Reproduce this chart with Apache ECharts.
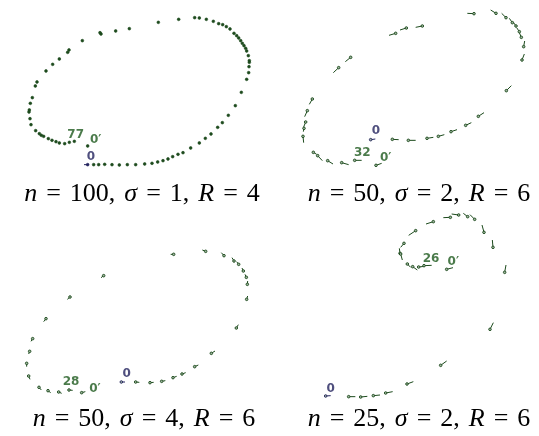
<!DOCTYPE html>
<html>
<head>
<meta charset="utf-8">
<script src="https://cdn.jsdelivr.net/npm/echarts@6/dist/echarts.min.js"></script>
<style>
  html, body { margin: 0; padding: 0; background: #fff; }
  #chart { width: 539px; height: 436px; }
</style>
</head>
<body>
<div id="chart"></div>
<script>
// positions are in panel units (3 units per screen pixel), y grows downward
// each mark: [x, y, tailX, tailY]
const marks1 = [
  [263, 494, 252, 494], [281, 494, 281, 494], [296, 494, 296, 494], [314, 493, 314, 493], [336, 494, 336, 494],
  [358, 495, 358, 495], [382, 494, 382, 494], [407, 494, 407, 494], [434, 492, 434, 492], [456, 490, 456, 490],
  [473, 486, 473, 486], [489, 482, 489, 482], [504, 477, 504, 477], [518, 470, 518, 470], [534, 463, 534, 463],
  [549, 458, 549, 458], [572, 444, 572, 444], [598, 429, 598, 429], [616, 415, 616, 415], [633, 402, 633, 402],
  [653, 382, 653, 382], [667, 368, 667, 368], [685, 346, 685, 346], [706, 317, 706, 317], [724, 277, 724, 277],
  [740, 238, 740, 238], [746, 218, 746, 218], [747, 200, 747, 200], [748, 187, 748, 187], [748, 182, 748, 182],
  [745, 167, 745, 167], [740, 153, 740, 153], [737, 145, 737, 145], [732, 137, 732, 137], [727, 130, 727, 130],
  [722, 122, 722, 122], [716, 114, 716, 114], [710, 107, 710, 107], [702, 100, 702, 100], [690, 87, 690, 87],
  [679, 80, 679, 80], [668, 74, 668, 74], [656, 71, 656, 71], [640, 64, 640, 64], [619, 58, 619, 58],
  [598, 54, 598, 54], [584, 53, 584, 53], [536, 58, 536, 58], [475, 67, 475, 67], [388, 86, 388, 86],
  [347, 93, 347, 93], [303, 102, 303, 102], [300, 98, 300, 98], [247, 122, 247, 122], [207, 150, 207, 150],
  [203, 157, 203, 157], [178, 177, 178, 177], [158, 193, 158, 193], [138, 213, 138, 213], [111, 246, 111, 246],
  [106, 258, 106, 258], [97, 293, 97, 293], [91, 310, 91, 310], [88, 330, 88, 330], [87, 336, 87, 336],
  [90, 356, 90, 356], [93, 374, 93, 374], [107, 392, 107, 392], [118, 401, 118, 401], [124, 406, 124, 406],
  [131, 409, 131, 409], [145, 416, 145, 416], [156, 421, 156, 421], [168, 425, 168, 425], [178, 429, 178, 429],
  [194, 431, 194, 431], [208, 427, 208, 427], [223, 424, 223, 424], [263, 438, 263, 438]
];
const marks2 = [
  [302, 419, 316, 417], [367, 418, 386, 419], [415, 421, 437, 421], [471, 415, 490, 412], [505, 409, 523, 404],
  [543, 395, 561, 389], [587, 376, 604, 368], [625, 349, 642, 338], [709, 272, 724, 257], [756, 180, 763, 162],
  [761, 140, 764, 123], [754, 112, 748, 98], [748, 95, 740, 83], [738, 78, 730, 67], [727, 68, 718, 55],
  [708, 53, 695, 40], [678, 40, 662, 30], [612, 41, 592, 40], [457, 78, 437, 82], [409, 84, 390, 90],
  [377, 100, 357, 106], [242, 172, 226, 185], [206, 203, 190, 218], [127, 297, 118, 313], [112, 332, 104, 350],
  [107, 366, 101, 381], [102, 385, 100, 395], [99, 409, 101, 428], [130, 457, 140, 463], [143, 467, 157, 482],
  [173, 482, 189, 492], [215, 488, 236, 494], [254, 481, 275, 481], [318, 496, 335, 490]
];
const marks3 = [
  [364, 516, 375, 516], [407, 516, 418, 517], [450, 518, 461, 517], [485, 514, 496, 512], [519, 503, 530, 499],
  [546, 492, 557, 488], [584, 470, 595, 465], [634, 430, 645, 423], [709, 354, 715, 344], [740, 268, 743, 258],
  [742, 223, 743, 213], [739, 202, 735, 193], [730, 183, 726, 174], [716, 163, 710, 155], [702, 153, 696, 143],
  [672, 137, 664, 128], [617, 124, 607, 120], [521, 133, 512, 133], [311, 197, 303, 203], [210, 261, 202, 268],
  [138, 326, 131, 335], [98, 386, 93, 394], [89, 424, 86, 432], [80, 460, 80, 470], [86, 498, 90, 508],
  [117, 532, 124, 540], [144, 542, 152, 548], [176, 546, 185, 550], [207, 540, 218, 541], [245, 548, 256, 545]
];
const marks4 = [
  [167, 558, 182, 557], [236, 560, 256, 560], [272, 561, 292, 559], [310, 557, 330, 555], [347, 549, 368, 545],
  [411, 522, 430, 515], [512, 466, 530, 453], [660, 358, 670, 338], [704, 187, 708, 165], [669, 112, 667, 90],
  [642, 67, 636, 45], [614, 28, 600, 14], [593, 20, 580, 10], [566, 15, 545, 12], [541, 22, 520, 23],
  [490, 35, 468, 42], [437, 62, 416, 76], [402, 100, 392, 112], [390, 130, 388, 115], [392, 132, 397, 150],
  [412, 162, 422, 172], [428, 170, 442, 180], [446, 171, 464, 169], [462, 167, 485, 166], [530, 178, 549, 173]
];

// labels: [text, x, y]
const labels1 = [['0', 273, 470], ['77', 227, 405], ['0\u2032', 287, 420]];
const labels2 = [['0', 318, 393], ['32', 277, 458], ['0\u2032', 347, 475]];
const labels3 = [['0', 380, 493], ['28', 213, 517], ['0\u2032', 285, 538]];
const labels4 = [['0', 182, 537], ['26', 483, 148], ['0\u2032', 550, 155]];

const captions = [
  ['n', '100', '1', '4'],
  ['n', '50', '2', '6'],
  ['n', '50', '4', '6'],
  ['n', '25', '2', '6']
];

const panels = [
  { left: 0, top: 0, width: 270, height: 180, xMax: 810, yMax: 540, capX: 137, capY: 176 },
  { left: 270, top: 0, width: 269, height: 180, xMax: 807, yMax: 540, capX: 414, capY: 176 },
  { left: 0, top: 210, width: 270, height: 190, xMax: 810, yMax: 570, capX: 139, capY: 401 },
  { left: 270, top: 210, width: 269, height: 190, xMax: 807, yMax: 570, capX: 414, capY: 401 }
];
const allMarks = [marks1, marks2, marks3, marks4];
const allLabels = [labels1, labels2, labels3, labels4];

const GREEN = '#1c4a1c';
const NAVY = '#23235e';

const chart = echarts.init(document.getElementById('chart'));

const grid = [];
const xAxis = [];
const yAxis = [];
const series = [];
const title = [];

panels.forEach((p, i) => {
  grid.push({ left: p.left, top: p.top, width: p.width, height: p.height });
  xAxis.push({ type: 'value', gridIndex: i, min: 0, max: p.xMax, show: false });
  yAxis.push({ type: 'value', gridIndex: i, min: 0, max: p.yMax, inverse: true, show: false });

  series.push({
    type: 'custom',
    xAxisIndex: i,
    yAxisIndex: i,
    data: allMarks[i],
    encode: { x: [0, 2], y: [1, 3] },
    renderItem: function (params, api) {
      const pt = api.coord([api.value(0), api.value(1)]);
      const tl = api.coord([api.value(2), api.value(3)]);
      const color = params.dataIndex === 0 ? NAVY : GREEN;
      const filled = i === 0;
      return {
        type: 'group',
        children: [
          {
            type: 'line',
            shape: { x1: pt[0], y1: pt[1], x2: tl[0], y2: tl[1] },
            style: { stroke: color, lineWidth: 1 }
          },
          {
            type: 'circle',
            shape: { cx: pt[0], cy: pt[1], r: filled ? 1.4 : 1.3 },
            style: { fill: filled ? color : '#9fb59f', stroke: color, lineWidth: filled ? 0.6 : 0.9 }
          }
        ]
      };
    },
    silent: true,
    animation: false
  });

  series.push({
    type: 'scatter',
    xAxisIndex: i,
    yAxisIndex: i,
    symbolSize: 0,
    data: allLabels[i].map((l, k) => ({
      value: [l[1], l[2]],
      label: {
        show: true,
        position: 'inside',
        formatter: l[0],
        color: k === 0 ? NAVY : '#1e5a1e',
        fontFamily: 'DejaVu Sans',
        fontSize: 12,
        fontWeight: 'bold'
      }
    })),
    silent: true,
    animation: false
  });

  const c = captions[i];
  title.push({
    left: p.capX,
    top: p.capY,
    textAlign: 'center',
    text: '{i|' + c[0] + '}{e|=}' + c[1] + '{c|,}{i|\u03c3}{e|=}' + c[2] + '{c|,}{i|R}{e|=}' + c[3],
    textStyle: {
      fontFamily: 'Liberation Serif',
      fontSize: 26,
      fontWeight: 'normal',
      color: '#000',
      rich: {
        i: { fontFamily: 'Liberation Serif', fontStyle: 'italic', fontSize: 26, color: '#000' },
        e: { fontFamily: 'Liberation Serif', fontSize: 26, color: '#000', padding: [0, 9] },
        c: { fontFamily: 'Liberation Serif', fontSize: 26, color: '#000', padding: [0, 9, 0, 0] }
      }
    }
  });
});

chart.setOption({
  animation: false,
  title: title,
  grid: grid,
  xAxis: xAxis,
  yAxis: yAxis,
  series: series
});
</script>
</body>
</html>
